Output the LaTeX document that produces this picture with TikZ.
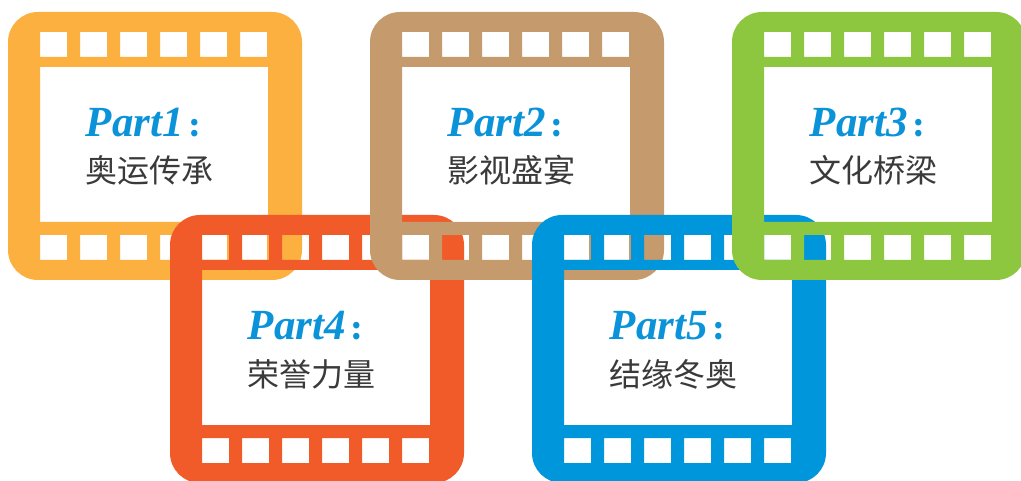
\documentclass[tikz,border=0pt]{standalone}
\usepackage{fontspec}
\newfontfamily\titlefont{Liberation Serif}
\newfontfamily\cjk{Noto Sans CJK SC}
\definecolor{filmorange}{HTML}{FBB040}
\definecolor{filmred}{HTML}{F15A29}
\definecolor{filmtan}{HTML}{C59A6D}
\definecolor{filmblue}{HTML}{0096DB}
\definecolor{filmgreen}{HTML}{8DC63F}
\definecolor{titleblue}{HTML}{0A93D8}
\definecolor{textgray}{HTML}{3A3A3A}
% one film frame: left, top, colour
\newcommand{\filmframe}[3]{%
  \fill[#3, even odd rule] [rounded corners=30pt] (#1,#2) rectangle ++(294,268)
    [sharp corners] (#1+32,#2+55) rectangle ++(228,155)
    \foreach \k in {0,...,5} {(#1+32+40*\k,#2+20) rectangle ++(27,25)
                              (#1+32+40*\k,#2+223) rectangle ++(27,25)};
}
\tikzset{
  parttitle/.style={anchor=base, inner sep=0pt, text=titleblue,
    font=\titlefont\bfseries\itshape\fontsize{43}{48}\selectfont},
  parttext/.style={anchor=base, inner sep=0pt, text=textgray,
    font=\cjk\fontsize{32}{36}\selectfont}
}
\newcommand{\partcolon}{{\cjk\fontsize{30}{30}\selectfont\hspace{6pt}:}}
\begin{document}
\begin{tikzpicture}[x=1pt, y=-1pt]
\useasboundingbox (0,0) rectangle (1021,481);
\clip (0,0) rectangle (1021,481);
\filmframe{8}{12}{filmorange}
\filmframe{170}{215}{filmred}
\filmframe{370}{12}{filmtan}
\filmframe{532}{215}{filmblue}
\filmframe{732}{12}{filmgreen}
\node[parttitle] (p1) at (143, 137) {Part1\partcolon};
\node[parttext]  (t1) at (149, 183) {奥运传承};
\node[parttitle] (p2) at (505, 137) {Part2\partcolon};
\node[parttext]  (t2) at (511, 183) {影视盛宴};
\node[parttitle] (p3) at (867, 137) {Part3\partcolon};
\node[parttext]  (t3) at (873, 183) {文化桥梁};
\node[parttitle] (p4) at (305, 340) {Part4\partcolon};
\node[parttext]  (t4) at (311, 386) {荣誉力量};
\node[parttitle] (p5) at (667, 340) {Part5\partcolon};
\node[parttext]  (t5) at (673, 386) {结缘冬奥};
\end{tikzpicture}
\end{document}
